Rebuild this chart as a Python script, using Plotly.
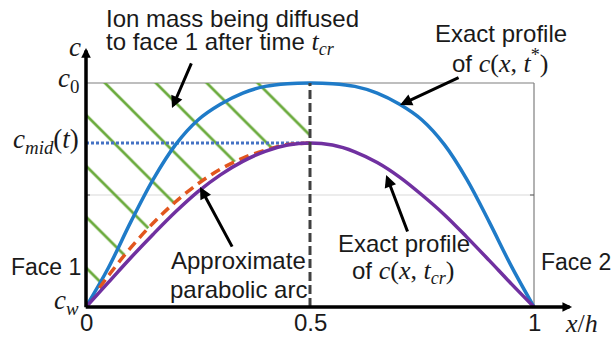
import plotly.graph_objects as go

# ---------------- data (c_w = 0, c_0 = 1) ----------------
x_pos = [0.00, 0.05, 0.10, 0.15, 0.20, 0.25, 0.30, 0.35, 0.40, 0.45, 0.50,
         0.55, 0.60, 0.65, 0.70, 0.75, 0.80, 0.85, 0.90, 0.95, 1.00]
# exact profile c(x, t*)
c_tstar = [0.000, 0.175, 0.380, 0.570, 0.725, 0.835, 0.905, 0.955, 0.985, 0.997, 1.000,
           0.997, 0.985, 0.955, 0.905, 0.835, 0.725, 0.570, 0.380, 0.180, 0.000]
# exact profile c(x, t_cr)
c_tcr = [0.000, 0.110, 0.220, 0.325, 0.425, 0.515, 0.590, 0.650, 0.695, 0.723, 0.732,
         0.723, 0.693, 0.645, 0.580, 0.500, 0.412, 0.312, 0.208, 0.102, 0.000]
# approximate parabolic arc (lower edge of the hatched region)
arc_x = [0.00, 0.03, 0.05, 0.10, 0.15, 0.20, 0.25, 0.30, 0.35, 0.40, 0.45, 0.50]
arc_y = [0.000, 0.085, 0.140, 0.265, 0.375, 0.470, 0.550, 0.615, 0.665, 0.700, 0.725, 0.732]

c_w = 0.0
c_0 = 1.0
c_mid = 0.732
x_mid = 0.5
x_ticks = [0, 0.5, 1]
x_tick_text = ["0", "0.5", "1"]

SANS = "Liberation Sans, Arial, sans-serif"
SERIF = "Liberation Serif, Times New Roman, serif"
TXT = "#1a1a1a"

fig = go.Figure()

# hatched region: between c_0 and the parabolic arc, 0 <= x <= 0.5
fig.add_trace(go.Scatter(x=[0, x_mid], y=[c_0, c_0], mode="lines",
                         line=dict(width=0), hoverinfo="skip", showlegend=False))
fig.add_trace(go.Scatter(x=arc_x, y=arc_y, mode="lines",
                         line=dict(width=0, shape="spline"),
                         fill="tonexty", fillcolor="rgba(255,255,255,0)",
                         fillpattern=dict(shape="\\", size=36, solidity=0.075,
                                          fgcolor="#6AAA3C", fgopacity=1,
                                          bgcolor="rgba(255,255,255,0)", fillmode="replace"),
                         hoverinfo="skip", showlegend=False))

# c_mid dotted level
fig.add_trace(go.Scatter(x=[0, x_mid], y=[c_mid, c_mid], mode="lines",
                         line=dict(color="#4472C4", width=3, dash="3px,2px"),
                         showlegend=False))
# exact profile c(x,t*)
fig.add_trace(go.Scatter(x=x_pos, y=c_tstar, mode="lines",
                         line=dict(color="#1F7BC8", width=3.5, shape="spline"),
                         showlegend=False))
# approximate parabolic arc
fig.add_trace(go.Scatter(x=arc_x[1:], y=arc_y[1:], mode="lines",
                         line=dict(color="#E2561E", width=3.5, dash="10px,6px", shape="spline"),
                         showlegend=False))
# exact profile c(x,t_cr)
fig.add_trace(go.Scatter(x=x_pos, y=c_tcr, mode="lines",
                         line=dict(color="#7030A0", width=3.5, shape="spline"),
                         showlegend=False))
# mid-plane dashed line
fig.add_trace(go.Scatter(x=[x_mid, x_mid], y=[c_w, c_0], mode="lines",
                         line=dict(color="#404040", width=3, dash="9px,4px"),
                         showlegend=False))

# frame / grid
shapes = [
    dict(type="line", xref="x", yref="y", x0=0, x1=1, y0=0.5, y1=0.5,
         line=dict(color="#D9D9D9", width=1), layer="below"),
    dict(type="line", xref="x", yref="y", x0=0, x1=1, y0=c_0, y1=c_0,
         line=dict(color="#7F7F7F", width=1.2), layer="below"),
    dict(type="line", xref="x", yref="y", x0=1, x1=1, y0=c_w, y1=c_0,
         line=dict(color="#7F7F7F", width=1.2), layer="below"),
    dict(type="line", xref="x", yref="y", x0=0, x1=0.009, y0=0.5, y1=0.5,
         line=dict(color="#595959", width=1), layer="below"),
    dict(type="line", xref="x", yref="y", x0=0.991, x1=1, y0=0.5, y1=0.5,
         line=dict(color="#595959", width=1), layer="below"),
]

ann = []
# axis arrows
ann.append(dict(x=0, y=1.156, ax=0, ay=-0.008, xref="x", yref="y", axref="x", ayref="y",
                text="", showarrow=True, arrowhead=2, arrowsize=0.55, arrowwidth=3.5,
                arrowcolor="black", standoff=0))
ann.append(dict(x=1.085, y=0, ax=-0.004, ay=0, xref="x", yref="y", axref="x", ayref="y",
                text="", showarrow=True, arrowhead=2, arrowsize=0.55, arrowwidth=3.5,
                arrowcolor="black", standoff=0))
# pointer arrows
for tip, tail in [((0.192, 0.888), (0.2366, 1.094)),
                  ((0.701, 0.902), (0.835, 1.027)),
                  ((0.2545, 0.536), (0.328, 0.263)),
                  ((0.670, 0.589), (0.719, 0.330))]:
    ann.append(dict(x=tip[0], y=tip[1], ax=tail[0], ay=tail[1], xref="x", yref="y",
                    axref="x", ayref="y", text="", showarrow=True, arrowhead=2,
                    arrowsize=0.8, arrowwidth=3, arrowcolor="black", standoff=0))


def sans(x, y, text, xanchor="center", size=24):
    ann.append(dict(x=x, y=y, xref="x", yref="y", text=text, showarrow=False,
                    xanchor=xanchor, yanchor="middle", borderpad=0,
                    font=dict(family=SANS, size=size, color=TXT)))


def serif(x, y, text, xanchor="center", size=27):
    ann.append(dict(x=x, y=y, xref="x", yref="y", text=text, showarrow=False,
                    xanchor=xanchor, yanchor="middle", borderpad=0,
                    font=dict(family=SERIF, size=size, color=TXT)))


M = '<span style="font-family:Liberation Serif;font-size:26px">'
sans(0.0424, 1.2875, "Ion mass being diffused", "left")
sans(0.0424, 1.1804, "to face 1 after time " + M + "<i>t</i><sub><i>cr</i></sub></span>", "left")
sans(0.9263, 1.2205, "Exact profile")
sans(0.924, 1.0955, "of " + M + "<i>c</i>(<i>x</i>, <i>t</i><sup>*</sup>)</span>")
sans(0.3393, 0.2071, "Approximate")
sans(0.3404, 0.0777, "parabolic arc")
sans(0.7098, 0.283, "Exact profile")
sans(0.7098, 0.158, "of " + M + "<i>c</i>(<i>x</i>, <i>t</i><sub><i>cr</i></sub>)</span>")
sans(-0.0089, 0.1804, "Face 1", "right", 23)
sans(1.0135, 0.2027, "Face 2", "left", 23)

serif(-0.0246, 1.1607, "<i>c</i>")
serif(-0.0134, 1.0134, "<i>c</i><sub>0</sub>", "right")
serif(-0.0134, 0.741, "<i>c</i><sub><i>mid</i></sub>(<i>t</i>)", "right")
serif(-0.0134, 0.0223, "<i>c</i><sub><i>w</i></sub>", "right")
serif(1.1071, -0.072, "<i>x</i>/<i>h</i>", size=26)
for xv, tt in zip(x_ticks, x_tick_text):
    sans(xv, -0.0714, tt)

fig.update_layout(
    width=615, height=337, autosize=False,
    margin=dict(l=30, r=0, t=8, b=0, pad=0),
    paper_bgcolor="white", plot_bgcolor="white",
    showlegend=False,
    xaxis=dict(range=[-56 / 448, 529 / 448], visible=False, fixedrange=True),
    yaxis=dict(range=[-30 / 224, 299 / 224], visible=False, fixedrange=True),
    shapes=shapes, annotations=ann,
)

# remove the default page margin so the 615x337 figure fills the window exactly
fig.write_html("out.html",
               config={"displayModeBar": False},
               post_script="document.body.style.margin='0';"
                           "document.body.style.overflow='hidden';")
